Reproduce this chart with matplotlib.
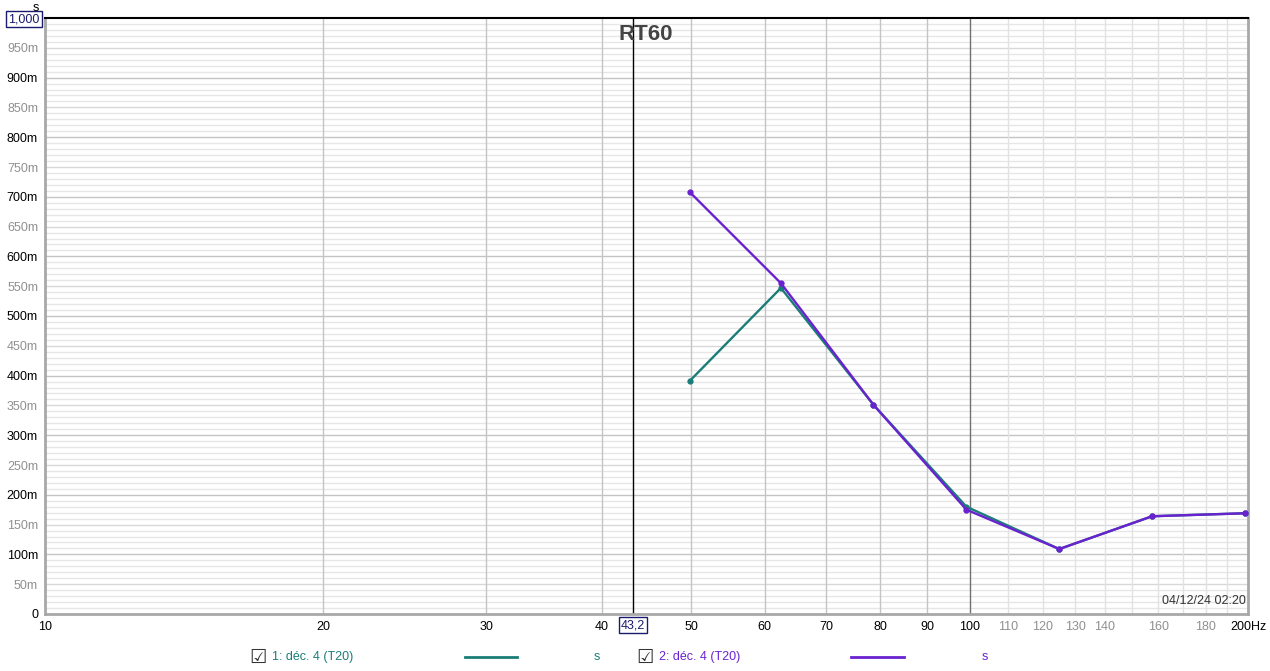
"""RT60 decay time per third-octave band, two measurements"""

import matplotlib.pyplot as plt
import numpy as np

# third-octave band centres (Hz, as plotted)
freqs = [49.8, 62.5, 78.7, 99.2, 125.0, 157.5, 198.4]
# RT60 (s) for each measurement
rt60_1 = [0.391, 0.547, 0.351, 0.180, 0.109, 0.164, 0.169]
rt60_2 = [0.708, 0.555, 0.351, 0.175, 0.109, 0.164, 0.169]

label_1 = '1: déc. 4 (T20)'
label_2 = '2: déc. 4 (T20)'
cursor_freq = 43.2

teal = '#1b7d78'
purple = '#6a22d0'

plt.rcParams['font.family'] = ['Liberation Sans', 'DejaVu Sans']

fig = plt.figure(figsize=(12.7, 6.71), dpi=100)
ax = fig.add_axes([45/1270, 1 - 614/671, 1203/1270, 596/671])

ax.set_xscale('log')
ax.set_xlim(10, 200)
ax.set_ylim(0, 1.0)

#horizontal grid: 10m light, 50m mid, 100m darker
for v in np.arange(0.01, 1.0, 0.01):
    v = round(v, 2)
    if round(v * 100) % 10 == 0:
        c = '#c4c4c4'
    elif round(v * 100) % 5 == 0:
        c = '#d8d8d8'
    else:
        c = '#e6e6e6'
    ax.axhline(v, color=c, lw=1, zorder=0)

#vertical grid
for f in range(20, 100, 10):
    ax.axvline(f, color='#c4c4c4', lw=1, zorder=0)
ax.axvline(100, color='#707070', lw=1, zorder=0)
for f in range(110, 200, 10):
    ax.axvline(f, color='#e2e2e2', lw=1, zorder=0)

#cursor
ax.axvline(cursor_freq, color='black', lw=1, zorder=1)

#data
ax.plot(freqs, rt60_1, color=teal, lw=1.7, marker='o', ms=3.5, zorder=3)
ax.plot(freqs, rt60_2, color=purple, lw=1.7, marker='o', ms=3.5, zorder=4)

#ticks
ax.tick_params(length=0, pad=5)
xt = [10, 20, 30, 40, 50, 60, 70, 80, 90, 100, 110, 120, 130, 140, 160, 180, 200]
ax.set_xticks(xt)
ax.set_xticks([], minor=True)
ax.set_xticklabels([str(f) if f != 200 else '200Hz' for f in xt], fontsize=9)
for lbl, f in zip(ax.get_xticklabels(), xt):
    lbl.set_color('#909090' if 100 < f < 200 else 'black')

yt = np.round(np.arange(0, 1.0, 0.05), 2)
ax.set_yticks(yt)
ylabels = ['0' if v == 0 else '%dm' % round(v * 1000) for v in yt]
ax.set_yticklabels(ylabels, fontsize=9)
for lbl, v in zip(ax.get_yticklabels(), yt):
    lbl.set_color('black' if round(v * 100) % 10 == 0 else '#909090')

#frame
for s in ['left', 'bottom', 'right']:
    ax.spines[s].set_color('#a8a8a8')
    ax.spines[s].set_linewidth(2)
ax.spines['top'].set_color('black')
ax.spines['top'].set_linewidth(1.5)

#boxed cursor labels
box = dict(boxstyle='square,pad=0.15', fc='white', ec='#1a1a6e', lw=1)
ax.text(cursor_freq, -0.009, '43,2', transform=ax.get_xaxis_transform(), ha='center', va='top',
        fontsize=9, color='#1a1a6e', bbox=box, zorder=10)
fig.text(24/1270, 1 - 19/671, '1,000', ha='center', va='center', fontsize=9, color='#1a1a6e', bbox=box)
fig.text(36/1270, 1 - 8/671, 's', ha='center', va='center', fontsize=9)

#title and timestamp
fig.text(646/1270, 1 - 34/671, 'RT60', ha='center', va='center', fontsize=16, fontweight='bold', color='#444444')
ax.text(0.998, 0.012, '04/12/24 02:20', transform=ax.transAxes, ha='right', va='bottom', fontsize=9, color='#333333')

#legend row
ly = 1 - 657/671
for x0, lab, col, lx0, lx1, sx in [(258, label_1, teal, 465, 517, 597), (645, label_2, purple, 851, 904, 985)]:
    fig.text(x0/1270, ly, '\u2611', ha='center', va='center', fontsize=14, color='#333333', family=['DejaVu Sans'])
    fig.text((x0 + 14)/1270, ly, lab, ha='left', va='center', fontsize=9, color=col)
    fig.add_artist(plt.Line2D([lx0/1270, lx1/1270], [ly, ly], color=col, lw=2, transform=fig.transFigure))
    fig.text(sx/1270, ly, 's', ha='center', va='center', fontsize=9, color=col)

fig.savefig('out.png', dpi=100)
